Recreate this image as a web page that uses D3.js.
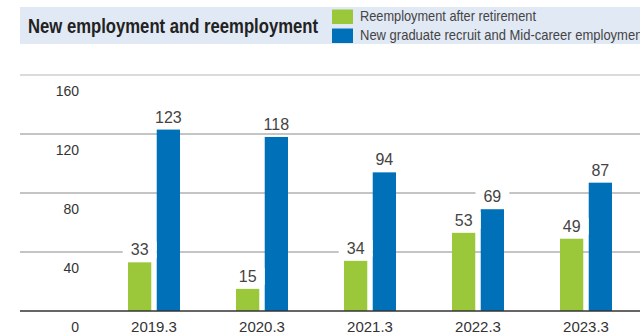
<!DOCTYPE html>
<html>
<head>
<meta charset="utf-8">
<script src="https://cdn.jsdelivr.net/npm/d3@7"></script>
<style>
body{margin:0;background:#fff;}
svg{display:block;}
</style>
</head>
<body>
<div id="chart"></div>
<script>
// data
var years = ["2019.3", "2020.3", "2021.3", "2022.3", "2023.3"];
var reemployment = [33, 15, 34, 53, 49];
var newHires = [123, 118, 94, 69, 87];
var yTicks = [0, 40, 80, 120, 160];
var seriesNames = ["Reemployment after retirement", "New graduate recruit and Mid-career employment"];
var seriesColors = ["#9bc83b", "#0070b9"];

var w = 640, h = 334;
var svg = d3.select("#chart").append("svg")
	.attr("width", w)
	.attr("height", h);

// header band
svg.append("rect")
	.attr("x", 20).attr("y", 7)
	.attr("width", 620).attr("height", 37)
	.attr("fill", "#e1e9f5");

svg.append("text")
	.attr("x", 28).attr("y", 33)
	.attr("font-family", "'Liberation Sans', Arial, sans-serif")
	.attr("font-size", 21)
	.attr("font-weight", "bold")
	.attr("fill", "#222")
	.attr("textLength", 290)
	.attr("lengthAdjust", "spacingAndGlyphs")
	.text("New employment and reemployment");

var legend = svg.selectAll("g.legend")
	.data(seriesNames)
	.enter().append("g")
	.attr("class", "legend")
	.attr("transform", function(d, i){ return "translate(332," + (9.5 + i * 19) + ")"; });
legend.append("rect")
	.attr("width", 21).attr("height", 14.5)
	.attr("fill", function(d, i){ return seriesColors[i]; });
legend.append("text")
	.attr("x", 28).attr("y", 11.5)
	.attr("font-family", "'Liberation Sans', Arial, sans-serif")
	.attr("font-size", 15)
	.attr("fill", "#444")
	.attr("textLength", function(d, i){ return i == 0 ? 176 : 286; })
	.attr("lengthAdjust", "spacingAndGlyphs")
	.text(function(d){ return d; });

// scales
var x = d3.scaleBand().domain(years).range([100, 640]);
var xs = d3.scaleBand().domain([0, 1]).range([28, 80]).paddingInner(0.19);
var y = d3.scaleLinear().domain([0, 160]).range([311, 75]);

// gridlines + y labels
svg.selectAll("line.grid")
	.data(yTicks.filter(function(v){ return v > 0; }))
	.enter().append("line")
	.attr("class", "grid")
	.attr("x1", 20).attr("x2", 640)
	.attr("y1", function(d){ return y(d); })
	.attr("y2", function(d){ return y(d); })
	.attr("stroke", function(d){ return d == 160 ? "#cfcfcf" : "#8a8a8a"; })
	.attr("stroke-width", function(d){ return d == 160 ? 1.5 : 1; });

svg.selectAll("text.ylab")
	.data(yTicks)
	.enter().append("text")
	.attr("class", "ylab")
	.attr("x", 79)
	.attr("y", function(d){ return y(d) + 21; })
	.attr("text-anchor", "end")
	.attr("font-family", "'Liberation Sans', Arial, sans-serif")
	.attr("font-size", 14)
	.attr("fill", "#333")
	.text(function(d){ return d; });

// bars
var rows = years.map(function(c, i){
	return { year: c, vals: [reemployment[i], newHires[i]] };
});

var groups = svg.selectAll("g.year")
	.data(rows)
	.enter().append("g")
	.attr("class", "year")
	.attr("transform", function(d){ return "translate(" + x(d.year) + ",0)"; });

groups.selectAll("rect")
	.data(function(d){ return d.vals; })
	.enter().append("rect")
	.attr("x", function(d, i){ return xs(i); })
	.attr("y", function(d){ return y(d); })
	.attr("width", xs.bandwidth())
	.attr("height", function(d){ return y(0) - y(d); })
	.attr("fill", function(d, i){ return seriesColors[i]; });

// value labels with white backing
var labels = groups.selectAll("g.val")
	.data(function(d){ return d.vals; })
	.enter().append("g")
	.attr("class", "val");
labels.append("rect")
	.attr("fill", "#fff");
labels.append("text")
	.attr("x", function(d, i){ return xs(i) + xs.bandwidth() / 2; })
	.attr("y", function(d){ return y(d) - 7; })
	.attr("text-anchor", "middle")
	.attr("font-family", "'Liberation Sans', Arial, sans-serif")
	.attr("font-size", 16)
	.attr("fill", "#444")
	.text(function(d){ return d; });
labels.each(function(){
	var g = d3.select(this);
	var b = g.select("text").node().getBBox();
	g.select("rect")
		.attr("x", b.x - 8).attr("y", b.y)
		.attr("width", b.width + 16).attr("height", b.height);
});

// baseline
svg.append("line")
	.attr("x1", 20).attr("x2", 640)
	.attr("y1", y(0)).attr("y2", y(0))
	.attr("stroke", "#333")
	.attr("stroke-width", 1.5);

// x labels
svg.selectAll("text.xlab")
	.data(years)
	.enter().append("text")
	.attr("class", "xlab")
	.attr("x", function(d){ return x(d) + 54; })
	.attr("y", 332)
	.attr("text-anchor", "middle")
	.attr("font-family", "'Liberation Sans', Arial, sans-serif")
	.attr("font-size", 15)
	.attr("fill", "#333")
	.text(function(d){ return d; });
</script>
</body>
</html>
